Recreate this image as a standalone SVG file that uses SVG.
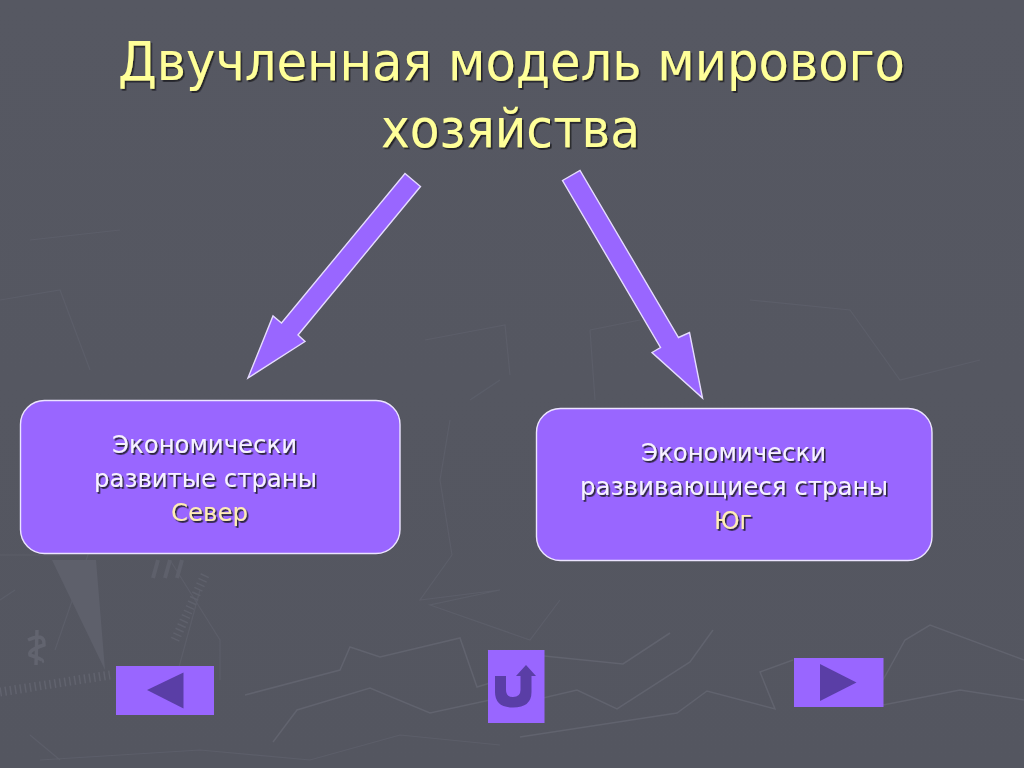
<svg xmlns="http://www.w3.org/2000/svg" width="1024" height="768" viewBox="0 0 1024 768">
<style>
.txt{font-family:"DejaVu Sans","Noto Sans",sans-serif;text-anchor:middle;filter:url(#sh)}
.title{font-size:53px;fill:#ffff99}
.lbl{font-size:25px;fill:#f6f2ff}
.acc{fill:#ffeeb4}
.box{fill:#9966ff;stroke:#ece4ff;stroke-width:1.4}
.arr{fill:#9966ff;stroke:#e6dcff;stroke-width:1.4;stroke-linejoin:miter}
.btn{fill:#9966ff}
.ico{fill:#5a3ea6}
.bg{fill:none;stroke:#61636e;stroke-width:1.5}
.bg2{fill:none;stroke:#5c5e69;stroke-width:1.2}
</style>
<defs>
<filter id="sh" x="-5%" y="-20%" width="110%" height="140%"><feDropShadow dx="1.6" dy="1.8" stdDeviation="0.7" flood-color="#1c1c24" flood-opacity="0.9"/></filter>
<linearGradient id="bgg" x1="0" y1="0" x2="0" y2="1"><stop offset="0" stop-color="#565862"/><stop offset="1" stop-color="#545660"/></linearGradient>
</defs>
<rect id="background" width="1024" height="768" fill="url(#bgg)"/>
<g id="texture">
<path class="bg" d="M245 695 L340 670 L350 647 L380 657 L460 638 L477 687 L500 680 L510 685 L488 650"/>
<path class="bg" d="M273 742 L297 710 L370 688 L430 713 L490 700 L543 698 L577 690 L617 709 L690 662 L713 630"/>
<path class="bg" d="M544 656 L623 664 L670 633"/>
<path class="bg" d="M520 737 L677 713 L707 691 L775 709 L760 672 L793 660"/>
<path class="bg" d="M883 680 L905 640 L930 625 L1024 660"/>
<path class="bg" d="M883 705 L960 690 L1024 700"/>
<path class="bg2" d="M452 555 L440 480 L450 420 M452 555 L420 600 L500 590 L430 605 L530 640 L560 600"/>
<path class="bg2" d="M30 735 L60 760 M40 760 L200 750 L310 760 L400 735 L500 745"/>
<path class="bg2" d="M100 520 L55 650 M170 560 L220 640 L220 680 M200 590 L170 700"/>
<path class="bg2" d="M0 600 L15 590 M0 555 L60 555"/>
<path class="bg2" d="M425 340 L505 325 L510 375 M590 330 L640 320 M590 330 L595 400 M500 380 L470 400"/>
<path class="bg2" d="M0 300 L60 290 L90 370 M30 240 L120 230 M750 300 L850 310 L900 380 L980 360"/>
<path d="M52 560 L96 560 L105 670 Z" fill="#5e606b"/>
<path d="M0 692 L110 675" fill="none" stroke="#61636e" stroke-width="9" stroke-dasharray="1.5 3.5"/>
<path d="M205 575 L175 640" fill="none" stroke="#5f616c" stroke-width="9" stroke-dasharray="1.5 3.5"/>
<path d="M28 640 Q45 632 44 645 Q28 650 30 655 Q45 660 42 662 M37 630 L36 665" fill="none" stroke="#62646f" stroke-width="3.5"/>
<path d="M153 578 L158 560 M165 578 L170 560 M177 578 L182 560" fill="none" stroke="#5e606b" stroke-width="4"/>
</g>
<g id="connectors">
<polygon class="arr" points="405,173.5 420.5,186.5 298,335 305,341.5 248,378 273,316 281.5,323"/>
<polygon class="arr" points="562.5,180.5 580,170.5 678.5,337.5 689.5,332.5 702.5,398 652,352.5 660.5,347.5"/>
</g>
<g id="title">
<text class="txt title" x="511.5" y="80" textLength="787" lengthAdjust="spacingAndGlyphs">Двучленная модель мирового</text>
<text class="txt title" x="510.5" y="147" textLength="259" lengthAdjust="spacingAndGlyphs">хозяйства</text>
</g>
<g id="node-north">
<rect class="box" x="20.5" y="400.5" width="379.500" height="153" rx="24"/>
<text class="txt lbl" x="204.500" y="453" textLength="185" lengthAdjust="spacingAndGlyphs">Экономически</text>
<text class="txt lbl" x="205.500" y="487" textLength="223" lengthAdjust="spacingAndGlyphs">развитые страны</text>
<text class="txt lbl acc" x="209.500" y="521" textLength="77" lengthAdjust="spacingAndGlyphs">Север</text>
</g>
<g id="node-south">
<rect class="box" x="536.500" y="408.500" width="395.500" height="152" rx="24"/>
<text class="txt lbl" x="733.500" y="461" textLength="185" lengthAdjust="spacingAndGlyphs">Экономически</text>
<text class="txt lbl" x="734" y="495" textLength="308" lengthAdjust="spacingAndGlyphs">развивающиеся страны</text>
<text class="txt lbl acc" x="733" y="529" textLength="38" lengthAdjust="spacingAndGlyphs">Юг</text>
</g>
<g id="btn-back">
<rect class="btn" x="116" y="666" width="98" height="49"/>
<polygon class="ico" points="147,690 183.500,672.500 183.500,708.500"/>
</g>
<g id="btn-home">
<rect class="btn" x="488" y="650" width="56.500" height="73"/>
<path class="ico" d="M495 676 H506 V690 Q506 697 513 697 Q520.500 697 520.500 690 V676 H516 L526 665 L536 676 H531.500 V692 Q531.500 707.500 513 707.500 Q495 707.500 495 692 Z"/>
</g>
<g id="btn-next">
<rect class="btn" x="794" y="658" width="89.500" height="49"/>
<polygon class="ico" points="820,664 856.500,682.500 820,701"/>
</g>
</svg>
